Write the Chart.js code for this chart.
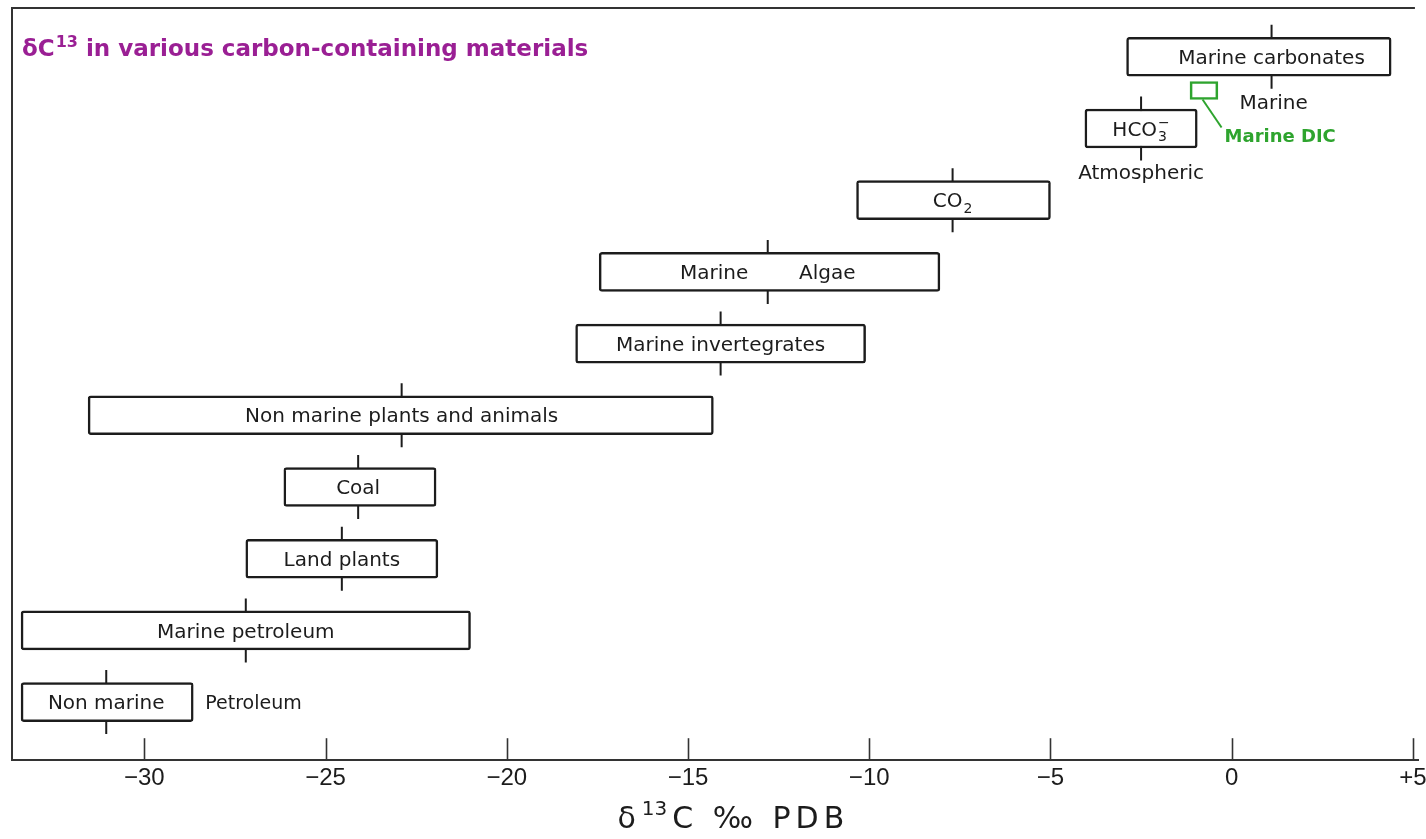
<!DOCTYPE html>
<html>
<head>
<meta charset="utf-8">
<script src="https://cdn.jsdelivr.net/npm/chart.js@4.4.0/dist/chart.umd.min.js"></script>
<style>
  html, body { margin: 0; padding: 0; background: #fff; }
  #wrap { width: 1426px; height: 839px; }
</style>
</head>
<body>
<div id="wrap"><canvas id="chart"></canvas></div>
<script>
// delta C13 ranges (per mil PDB), one box per material
const materials = ['Marine carbonates', 'HCO₃⁻', 'CO₂', 'Marine        Algae', 'Marine invertegrates',
    'Non marine plants and animals', 'Coal', 'Land plants', 'Marine petroleum', 'Non marine'];
const rowNumber = [0, 1, 2, 3, 4, 5, 6, 7, 8, 9];
const lowValues = [-2.9, -4.05, -10.35, -17.45, -18.1, -31.55, -26.15, -27.2, -33.4, -33.4];
const highValues = [4.4, -0.95, -5.0, -8.05, -10.1, -14.3, -21.95, -21.9, -21.0, -28.65];
const meanValues = [1.1, -2.5, -7.7, -12.8, -14.1, -22.9, -24.1, -24.55, -27.2, -31.05];

// marine dissolved inorganic carbon (green box)
const dicRow = [0.47];
const dicLow = [-1.15];
const dicHigh = [-0.38];

const xTickValues = [-30, -25, -20, -15, -10, -5, 0, 5];
const xTickLabels = ['−30', '−25', '−20', '−15', '−10', '−5', '0', '+5'];

const titleText = 'δC¹³ in various carbon-containing materials';
const axisTitle = 'δ¹³C ‰ PDB';

const INK = '#1c1c1c';
const GREEN = '#2ea42e';
const FONT = '"DejaVu Sans", sans-serif';

const SUB = { '₀': '0', '₁': '1', '₂': '2', '₃': '3', '₄': '4' };
const SUP = { '⁻': '−', '¹': '1', '³': '3', '²': '2' };

// split "HCO₃⁻" into normal runs and stacked sub/superscript runs
function splitRich(text) {
    const parts = [];
    for (const ch of text) {
        const kind = SUB[ch] ? 'sub' : SUP[ch] ? 'sup' : 'n';
        const c = SUB[ch] || SUP[ch] || ch;
        let last = parts[parts.length - 1];
        if (kind === 'n') {
            if (last && last.n !== undefined) last.n += c; else parts.push({ n: c });
        } else {
            if (!last || last.n !== undefined) { last = { sub: '', sup: '' }; parts.push(last); }
            last[kind] += c;
        }
    }
    return parts;
}

function drawRich(ctx, text, x, y, size, weight, align, color, spacing) {
    const big = `${weight} ${size}px ${FONT}`;
    const small = `${weight} ${Math.round(size * 0.68)}px ${FONT}`;
    const gap = (spacing || 0) + 'px';
    const parts = splitRich(text);
    let total = 0;
    parts.forEach(p => {
        if (p.n !== undefined) { ctx.font = big; ctx.letterSpacing = gap; p.w = ctx.measureText(p.n).width; }
        else {
            ctx.font = small;
            ctx.letterSpacing = '0px';
            p.w = Math.max(ctx.measureText(p.sub).width, ctx.measureText(p.sup).width) + 1 + (spacing || 0);
        }
        total += p.w;
    });
    let cx = align === 'center' ? x - total / 2 : x;
    const base = y + size * 0.36;
    ctx.fillStyle = color;
    ctx.textAlign = 'left';
    ctx.textBaseline = 'alphabetic';
    parts.forEach(p => {
        if (p.n !== undefined) { ctx.font = big; ctx.letterSpacing = gap; ctx.fillText(p.n, cx, base); }
        else {
            ctx.font = small;
            ctx.letterSpacing = '0px';
            if (p.sub) ctx.fillText(p.sub, cx + 1, base + size * 0.28);
            if (p.sup) ctx.fillText(p.sup, cx + 1, base - size * 0.42);
        }
        cx += p.w;
    });
    ctx.letterSpacing = '0px';
}

const annotate = {
    id: 'annotate',
    beforeDatasetsDraw(chart) {
        const { ctx, chartArea } = chart;
        const xs = chart.scales.x;
        ctx.save();
        ctx.strokeStyle = '#333';
        ctx.lineWidth = 2;
        // frame: left and top
        ctx.beginPath();
        ctx.moveTo(chartArea.left, chartArea.bottom);
        ctx.lineTo(chartArea.left, chartArea.top);
        ctx.lineTo(xs.getPixelForValue(5) + 2, chartArea.top);
        ctx.stroke();
        // tick marks pointing up into the plot
        ctx.lineWidth = 1.6;
        xs.ticks.forEach((t, i) => {
            const px = Math.round(xs.getPixelForTick(i)) + 0.5;
            ctx.beginPath();
            ctx.moveTo(px, chartArea.bottom);
            ctx.lineTo(px, chartArea.bottom - 22);
            ctx.stroke();
        });
        ctx.restore();
    },
    afterDatasetsDraw(chart) {
        const { ctx, chartArea } = chart;
        const xs = chart.scales.x;
        const boxes = chart.getDatasetMeta(0).data;
        ctx.save();
        drawRich(ctx, titleText, chartArea.left + 10, chartArea.top + 40, 23, 'bold', 'left', '#9a1f94');
        boxes.forEach((el, i) => {
            drawRich(ctx, materials[i], xs.getPixelForValue(meanValues[i]), el.y, 20, 'normal', 'center', INK);
        });
        // side notes
        const bottomOf = el => el.y + el.height / 2;
        drawRich(ctx, 'Marine', xs.getPixelForValue(meanValues[0]) + 2, bottomOf(boxes[0]) + 26, 20, 'normal', 'center', INK);
        drawRich(ctx, 'Atmospheric', xs.getPixelForValue(meanValues[1]), bottomOf(boxes[1]) + 24, 20, 'normal', 'center', INK);
        drawRich(ctx, 'Petroleum', Math.max(boxes[9].x, boxes[9].base) + 12, boxes[9].y, 19, 'normal', 'left', INK);

        const dic = chart.getDatasetMeta(1).data[0];
        const dLeft = Math.min(dic.x, dic.base);
        const dRight = Math.max(dic.x, dic.base);
        const sx = dLeft + (dRight - dLeft) * 0.45;
        const sy = dic.y + dic.height / 2;
        ctx.strokeStyle = GREEN;
        ctx.lineWidth = 2;
        ctx.beginPath();
        ctx.moveTo(sx, sy);
        ctx.lineTo(sx + 19, sy + 28);
        ctx.stroke();
        drawRich(ctx, 'Marine DIC', sx + 22, sy + 36, 18, 'bold', 'left', GREEN);

        // x axis title under the tick labels
        drawRich(ctx, axisTitle, xs.getPixelForValue(-13.75), chart.height - 22, 30, 'normal', 'center', INK, 5);
        ctx.restore();
    }
};

const boxData = rowNumber.map((r, i) => ({ x: [lowValues[i], highValues[i]], y: r }));
const dicData = dicRow.map((r, i) => ({ x: [dicLow[i], dicHigh[i]], y: r }));
const meanData = rowNumber.map((r, i) => ({ x: meanValues[i], y: r }));

new Chart(document.getElementById('chart'), {
    type: 'bar',
    data: {
        datasets: [
            {
                type: 'bar', indexAxis: 'y', data: boxData, grouped: false, order: 1,
                barThickness: 39, backgroundColor: '#fff', borderColor: INK,
                borderWidth: 2.5, borderSkipped: false, borderRadius: 3
            },
            {
                type: 'bar', indexAxis: 'y', data: dicData, grouped: false, order: 1,
                barThickness: 18, backgroundColor: 'rgba(0,0,0,0)', borderColor: GREEN,
                borderWidth: 2, borderSkipped: false
            },
            {
                type: 'scatter', data: meanData, order: 3,
                pointStyle: 'line', rotation: 90, radius: 32, borderColor: INK, borderWidth: 2
            }
        ]
    },
    options: {
        responsive: true,
        maintainAspectRatio: false,
        animation: false,
        events: [],
        layout: { autoPadding: false, padding: { left: 12, right: 8, top: 8, bottom: 50 } },
        plugins: { legend: { display: false }, tooltip: { enabled: false } },
        scales: {
            x: {
                type: 'linear', min: -33.65, max: 5.14, offset: false,
                afterBuildTicks: axis => { axis.ticks = xTickValues.map(v => ({ value: v })); },
                afterFit: axis => { axis.paddingLeft = 0; axis.paddingRight = 0; },
                ticks: {
                    padding: -4, color: INK,
                    font: { family: '"Liberation Sans", sans-serif', size: 24 },
                    callback: (v, i) => xTickLabels[i]
                },
                grid: { display: false },
                border: { display: true, color: '#333', width: 2 }
            },
            y: { type: 'linear', display: false, reverse: true, offset: false, min: -0.68, max: 9.81 }
        }
    },
    plugins: [annotate]
});
</script>
</body>
</html>
